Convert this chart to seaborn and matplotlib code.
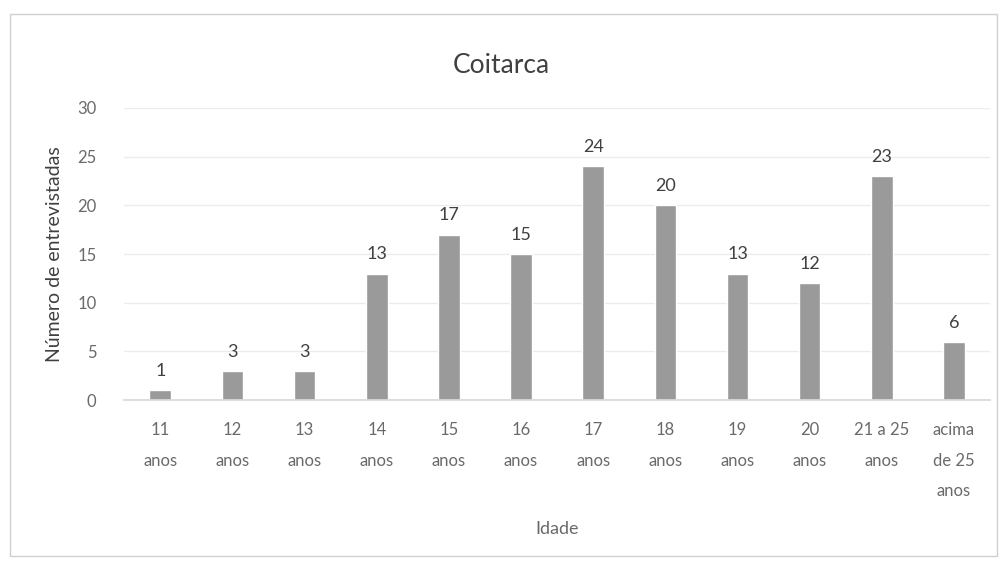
import matplotlib
matplotlib.use("Agg")
import matplotlib.pyplot as plt
import seaborn as sns
import pandas as pd
from matplotlib.patches import Rectangle

categories = ["11\nanos", "12\nanos", "13\nanos", "14\nanos", "15\nanos", "16\nanos",
              "17\nanos", "18\nanos", "19\nanos", "20\nanos", "21 a 25\nanos",
              "acima\nde 25\nanos"]
values = [1, 3, 3, 13, 17, 15, 24, 20, 13, 12, 23, 6]
y_ticks = [0, 5, 10, 15, 20, 25, 30]

sns.set_theme(style="white")
plt.rcParams["font.family"] = ["Lato", "DejaVu Sans"]

df = pd.DataFrame({"Idade": categories, "n": values})

fig = plt.figure(figsize=(10.02, 5.62), dpi=100)
ax = fig.add_axes([0.124, 0.288, 0.864, 0.520])

sns.barplot(data=df, x="Idade", y="n", color="#9a9a9a", width=0.30,
            saturation=1, ax=ax, zorder=2)

ax.set_ylim(0, 30)
ax.set_yticks(y_ticks)
ax.yaxis.grid(True, color="#ececec", linewidth=1, zorder=0)
for s in ["top", "right", "left"]:
    ax.spines[s].set_visible(False)
ax.spines["bottom"].set_color("#d9d9d9")
ax.tick_params(axis="y", length=0, labelsize=12, labelcolor="#6a6a6a", pad=20)
ax.tick_params(axis="x", length=0, labelsize=12, labelcolor="#6a6a6a", pad=16)
for lbl in ax.get_xticklabels():
    lbl.set_verticalalignment("top")
    lbl.set_linespacing(2.1)

for p, v in zip(ax.patches, values):
    ax.annotate(str(v), (p.get_x() + p.get_width() / 2, p.get_height()),
                xytext=(0, 8), textcoords="offset points", ha="center",
                va="bottom", fontsize=13, color="#404040")

ax.set_xlabel("Idade", fontsize=13, color="#6a6a6a", labelpad=16)
ax.set_ylabel("Número de entrevistadas", fontsize=14, color="#404040", labelpad=10)
fig.suptitle("Coitarca", y=0.905, fontsize=19, color="#404040")

fig.patches.append(Rectangle((0.010, 0.010), 0.985, 0.965, transform=fig.transFigure,
                             fill=False, edgecolor="#d0d0d0", linewidth=1))

fig.savefig("out.png", dpi=100, facecolor="white")
